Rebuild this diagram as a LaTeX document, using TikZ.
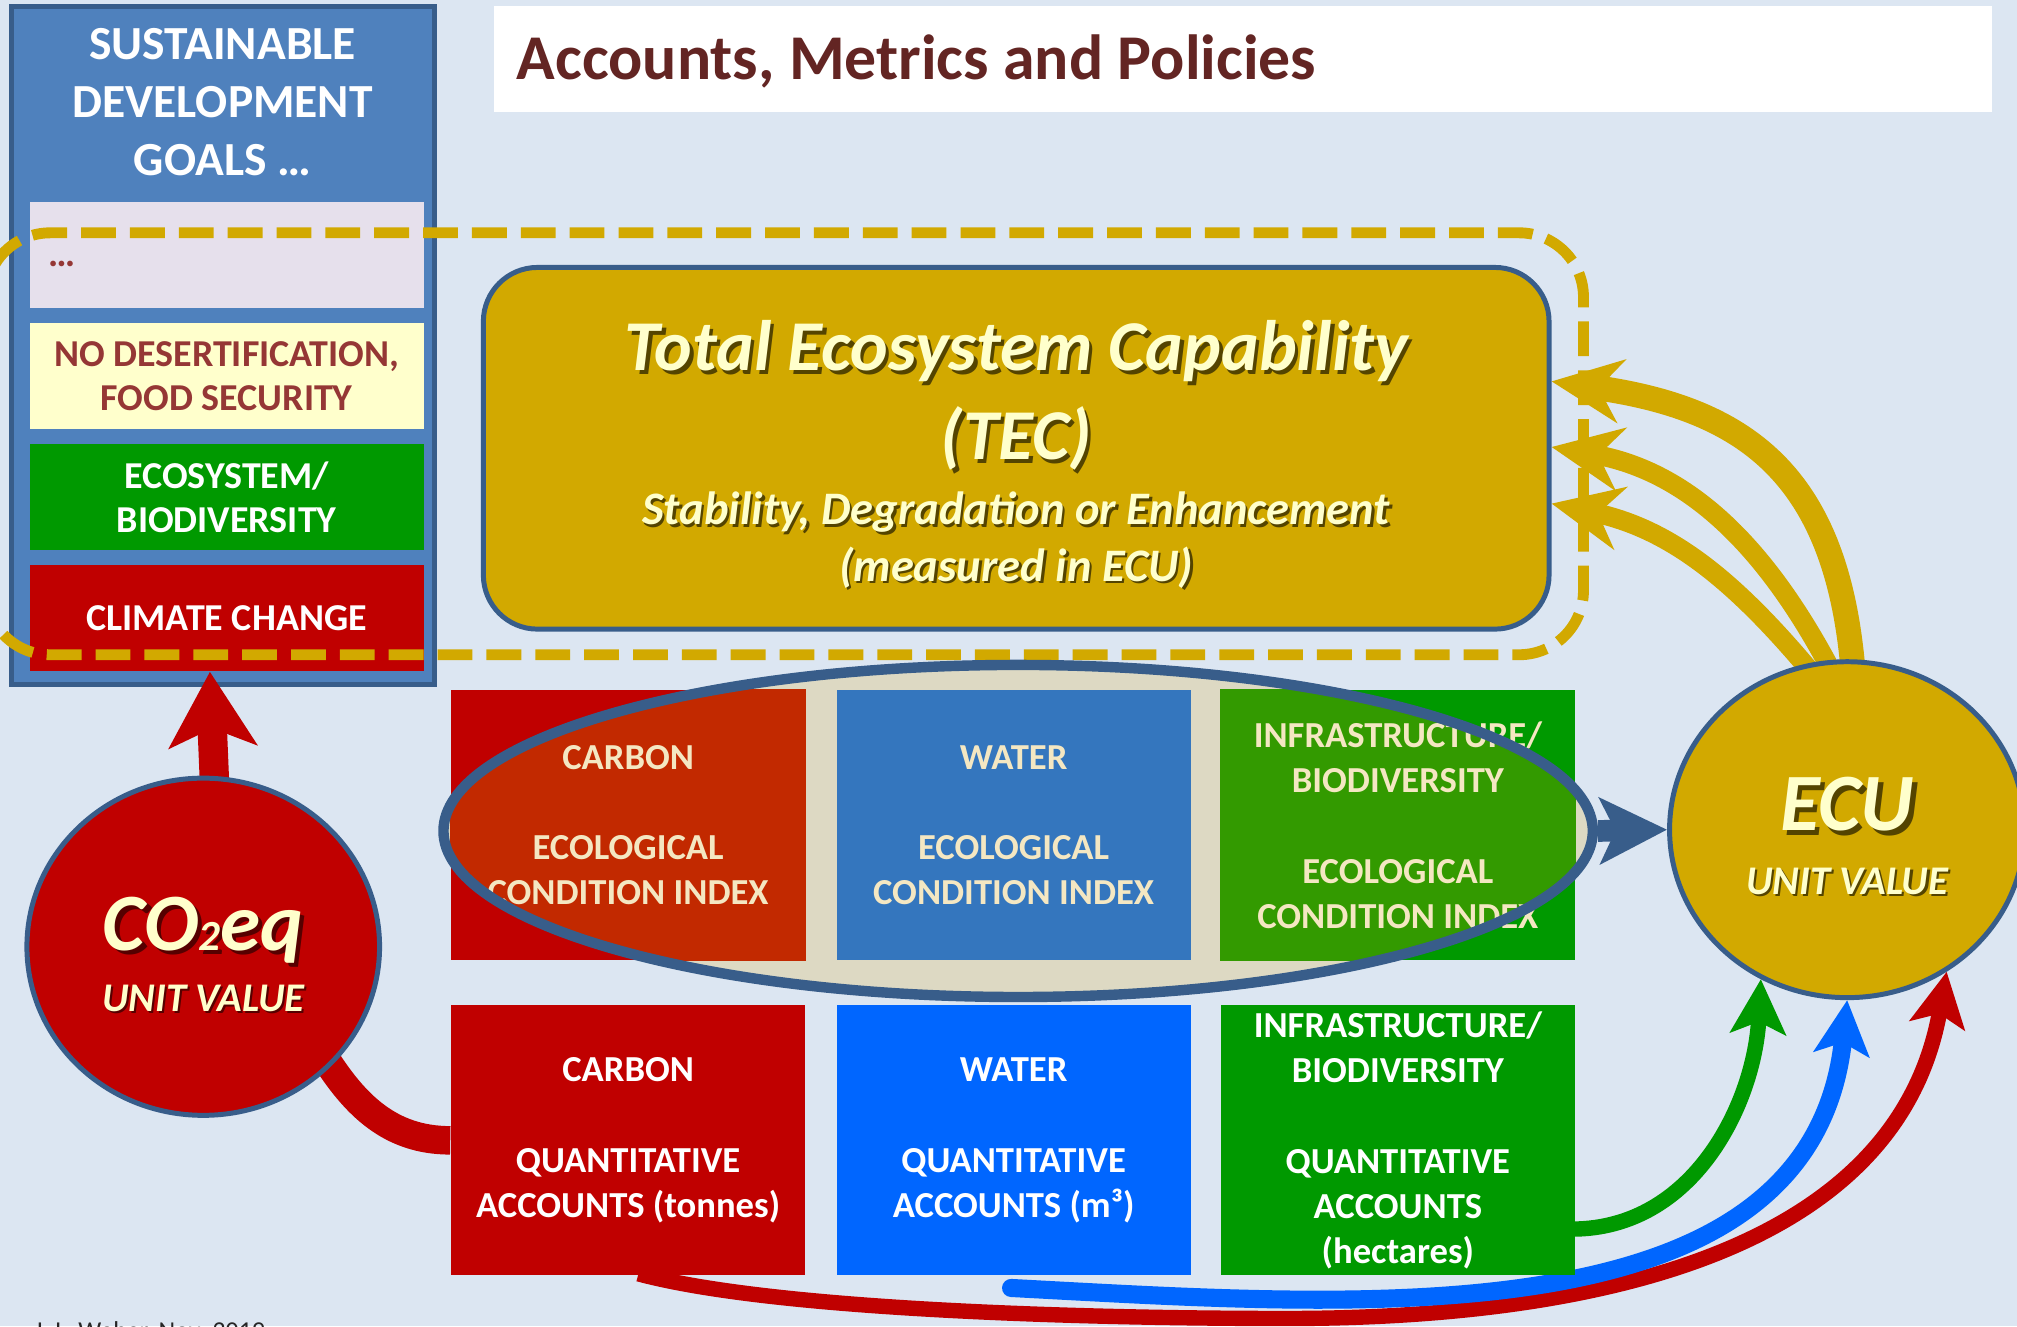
\documentclass[tikz,border=0pt]{standalone}
\usepackage{fontspec}
\setmainfont{Carlito}
\usepackage{xcolor}
\usepackage{tikz}
\usetikzlibrary{shapes.geometric, arrows.meta}
\usetikzlibrary{calc}

\definecolor{bgblue}{HTML}{DCE6F2}
\definecolor{panelblue}{HTML}{4F81BD}
\definecolor{rimblue}{HTML}{385D8A}
\definecolor{titlered}{HTML}{632523}
\definecolor{goalred}{HTML}{953735}
\definecolor{lavender}{HTML}{E6E0EC}
\definecolor{cream}{HTML}{FFFFCC}
\definecolor{leafgreen}{HTML}{009900}
\definecolor{deepred}{HTML}{C00000}
\definecolor{brightblue}{HTML}{0066FF}
\definecolor{waterblue}{HTML}{3476BE}
\definecolor{sandfill}{HTML}{DDD9C3}
\definecolor{redtint}{HTML}{C22900}
\definecolor{greentint}{HTML}{339A00}
\definecolor{tecgold}{HTML}{D2A900}
\definecolor{condtext}{HTML}{F4E7C2}
\colorlet{goldshade}{tecgold!40!black}
\colorlet{redshade}{deepred!45!black}

\pgfdeclarelayer{bg}
\pgfdeclarelayer{links}
\pgfdeclarelayer{front}
\pgfsetlayers{bg,links,main,front}

% text with a small dark shadow under it
\newcommand{\dropshade}[2]{\leavevmode\rlap{\kern0.05em\raisebox{-0.05em}{\color{#1}#2}}#2}

\begin{document}
\begin{tikzpicture}[x=0.01cm, y=-0.01cm,
    goalbox/.style={rectangle, minimum width=3.06cm, minimum height=0.82cm, inner sep=0pt,
        align=center, font=\bfseries\fontsize{8.4}{9.7}\selectfont},
    colbox/.style={rectangle, minimum width=2.75cm, minimum height=2.10cm, inner sep=0pt},
    coltext/.style={align=center, inner sep=0pt, font=\bfseries\fontsize{8.1}{10}\selectfont},
    unitdisc/.style={ellipse, draw=rimblue, line width=1.1pt, inner sep=0pt},
    bigword/.style={anchor=base, inner sep=0pt, text=cream, font=\bfseries\itshape\fontsize{18}{20}\selectfont},
    smallword/.style={anchor=base, inner sep=0pt, text=cream, font=\bfseries\itshape\fontsize{9}{10}\selectfont},
    goldarrow/.style={draw=tecgold, -{Stealth[length=15.5pt, width=14pt, inset=5pt]}},
    footarrow/.style={-{Stealth[length=12pt, width=12.2pt, inset=2.6pt]}},
]

        % Background
        \begin{pgfonlayer}{bg}
        \fill[bgblue] (0, 0) rectangle (1568, 1031);
        \end{pgfonlayer}
        \useasboundingbox (0, 0) rectangle (1568, 1031);

        % Title bar
        \node (titlebar) [fill=white, minimum width=11.64cm, minimum height=0.82cm, inner sep=0pt] at (966.5, 45.75) {};
        \node (heading) [anchor=base west, inner sep=0pt, text=titlered, font=\bfseries\fontsize{14.1}{16}\selectfont] at (401, 62) {Accounts, Metrics and Policies};

        % Goals panel on the left
        \node (sdg) [fill=panelblue, draw=rimblue, line width=1.1pt, minimum width=3.29cm, minimum height=5.265cm, inner sep=0pt] at (173.5, 268.75) {};
        \node (sdgname) [text=white, align=center, inner sep=0pt, font=\bfseries\fontsize{10.5}{12.8}\selectfont] at (173, 79.5) {SUSTAINABLE\\DEVELOPMENT\\GOALS …};
        \node (dots) [goalbox, fill=lavender] at (176.2, 198.25) {};
        \node (dotsmark) [anchor=base west, inner sep=0pt, text=goalred, font=\bfseries\fontsize{8.4}{9.7}\selectfont] at (37, 207) {…};
        \node (desert) [goalbox, fill=cream, text=goalred] at (176.2, 292.5) {NO DESERTIFICATION,\\FOOD SECURITY};
        \node (ecosys) [goalbox, fill=leafgreen, text=white] at (176.2, 386.5) {ECOSYSTEM/\\BIODIVERSITY};
        \node (climate) [goalbox, fill=deepred, text=white] at (176.2, 480.5) {CLIMATE CHANGE};

        % Dashed frame round the goals and the TEC box
        \draw[tecgold, line width=2.4pt, dash pattern=on 7.7pt off 3.1pt, rounded corners=0.5cm] (-11, 181) rectangle (1231, 509);

        % TEC box
        \node (tec) [fill=tecgold, draw=rimblue, line width=1.1pt, rounded corners=0.42cm, minimum width=8.28cm, minimum height=2.81cm, inner sep=0pt] at (790, 348.5) {};
        \node (tecname) [anchor=base, inner sep=0pt, text=cream, font=\bfseries\itshape\fontsize{15.8}{19}\selectfont] at (790, 288) {\dropshade{goldshade}{Total Ecosystem Capability}};
        \node (tecshort) [anchor=base, inner sep=0pt, text=cream, font=\bfseries\itshape\fontsize{15.8}{19}\selectfont] at (790, 357.5) {\dropshade{goldshade}{(TEC)}};
        \node (tecnote) [anchor=base, inner sep=0pt, text=cream, font=\bfseries\itshape\fontsize{10.3}{12}\selectfont] at (790, 408) {\dropshade{goldshade}{Stability, Degradation or Enhancement}};
        \node (tecunit) [anchor=base, inner sep=0pt, text=cream, font=\bfseries\itshape\fontsize{10.3}{12}\selectfont] at (790, 452) {\dropshade{goldshade}{(measured in ECU)}};

        % Condition row, with the ellipse behind and over it
        \node (cond) [ellipse, fill=sandfill, minimum width=8.93cm, minimum height=2.58cm, inner sep=0pt] at (791.5, 646) {};
        \node (ccarbon) [colbox, fill=deepred] at (488.3, 641.5) {};
        \node (cwater) [colbox, fill=waterblue] at (788, 641.5) {};
        \node (cinfra) [colbox, fill=leafgreen] at (1086.7, 641.5) {};
        \begin{scope}
        \clip (cond.center) ellipse [x radius=4.465cm, y radius=1.29cm];
        \fill[redtint] (ccarbon.south west) rectangle (ccarbon.north east);
        \fill[greentint] (cinfra.south west) rectangle (cinfra.north east);
        \end{scope}
        \node (ccarbontext) [coltext, text=condtext] at (ccarbon) {CARBON\\[10pt]ECOLOGICAL\\CONDITION INDEX};
        \node (cwatertext) [coltext, text=condtext] at (cwater) {WATER\\[10pt]ECOLOGICAL\\CONDITION INDEX};
        \node (cinfratext) [coltext, text=condtext] at (cinfra) {INFRASTRUCTURE/\\BIODIVERSITY\\[10pt]ECOLOGICAL\\CONDITION INDEX};
        \node (condrim) [ellipse, draw=rimblue, line width=2.3pt, minimum width=8.93cm, minimum height=2.58cm, inner sep=0pt] at (cond) {};

        % Quantitative accounts row
        \node (qcarbon) [colbox, coltext, fill=deepred, text=white] at (488.3, 886.5) {CARBON\\[10pt]QUANTITATIVE\\ACCOUNTS (tonnes)};
        \node (qwater) [colbox, coltext, fill=brightblue, text=white] at (788, 886.5) {WATER\\[10pt]QUANTITATIVE\\ACCOUNTS (m³)};
        \node (qinfra) [colbox, coltext, fill=leafgreen, text=white] at (1086.7, 886.5) {INFRASTRUCTURE/\\BIODIVERSITY\\[10pt]QUANTITATIVE\\ACCOUNTS\\(hectares)};

        % Unit value discs
        \begin{pgfonlayer}{front}
        \node (co2) [unitdisc, fill=deepred, minimum width=2.74cm, minimum height=2.62cm] at (158, 736) {};
        \node (co2name) [bigword] at (158, 738.6) {\dropshade{redshade}{CO{\fontsize{9.5}{10}\selectfont 2}eq}};
        \node (co2unit) [smallword] at (158, 786.7) {\dropshade{redshade}{UNIT VALUE}};
        \node (ecu) [unitdisc, fill=tecgold, minimum width=2.76cm, minimum height=2.61cm] at (1436, 645) {};
        \node (ecuname) [bigword] at (1436, 646) {\dropshade{goldshade}{ECU}};
        \node (ecuunit) [smallword] at (1436, 695) {\dropshade{goldshade}{UNIT VALUE}};
        \end{pgfonlayer}

        \node (credit) [anchor=base west, inner sep=0pt, text=black!85, font=\fontsize{5.7}{6}\selectfont] at (26, 1041) {J.-L. Weber, Nov. 2019};

        % Connectors that run under the boxes and discs
        \coordinate (redlow) at (1000, 1025);
        \begin{pgfonlayer}{links}
        \draw[deepred, line width=6.3pt] ($(co2.center)!0.92!(co2.-42)$) to[out=-58, in=180] (qcarbon.west);

        % ECU feeds the TEC
        \draw[goldarrow, line width=5.5pt] ($(ecu.center)!0.95!(ecu.88)$) to[out=95, in=-8, looseness=1.2] ($(tec.east)+(0, -52)$);
        \draw[goldarrow, line width=4.3pt] ($(ecu.center)!0.95!(ecu.96)$) to[out=118, in=-10] ($(tec.east)+(0, -1)$);
        \draw[goldarrow, line width=4.3pt] ($(ecu.center)!0.95!(ecu.103)$) to[out=130, in=-12] ($(tec.east)+(0, 43)$);

        % accounts feed the ECU
        \draw[footarrow, deepred, line width=3.4pt] ($(qcarbon.south)+(8, -2)$) to[out=-15, in=180, looseness=0.6] (redlow) to[out=0, in=-100] (ecu.-55);
        \draw[footarrow, brightblue, line width=4pt, line cap=round] ($(qwater.south)+(-2, 9)$) to[out=-3, in=-96] (ecu.-90);
        \draw[footarrow, leafgreen, line width=3.4pt] ($(qinfra.east)+(-3, 69)$) to[out=0, in=-93] (ecu.-120);
        \end{pgfonlayer}

        % Connectors drawn over the boxes
        \draw[deepred, line width=6.5pt, -{Stealth[length=16.5pt, width=19.3pt, inset=4pt]}] ($(co2.center)!0.95!(co2.86)$) -- ([xshift=-1.3mm]climate.south);
        \draw[rimblue, line width=4.8pt, -{Stealth[length=14.8pt, width=14.5pt, inset=3.4pt]}] (condrim.east) -- (ecu.west);
\end{tikzpicture}
\end{document}
